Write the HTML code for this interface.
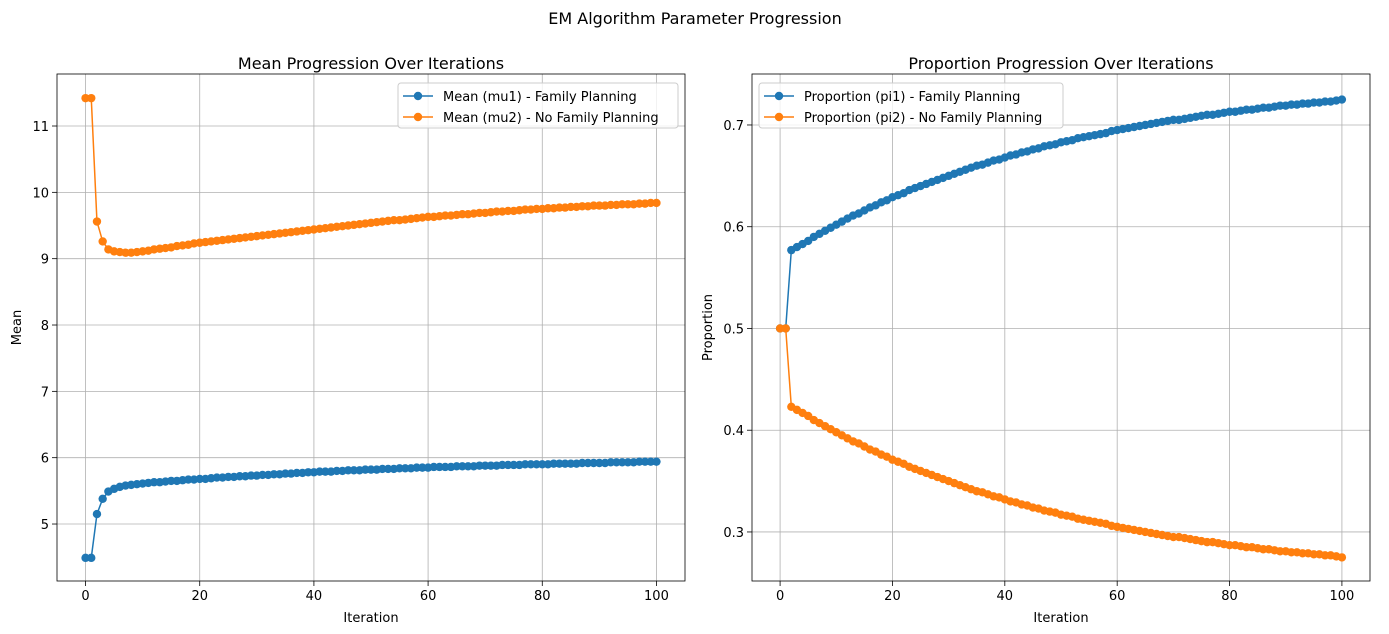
<!DOCTYPE html>
<html><head><meta charset="utf-8"><style>
body{margin:0;background:#fff;}
svg{display:block;font-family:"DejaVu Sans","Liberation Sans",sans-serif;}
</style></head><body>
<svg id="fig" width="1389" height="634">
<text x="695" y="24" text-anchor="middle" font-size="16" fill="#000">EM Algorithm Parameter Progression</text>
</svg>
<script>
const iterations = Array.from({length:101},(_,i)=>i);
const mu1 = [4.49,4.49,5.15,5.38,5.49,5.53,5.56,5.58,5.59,5.60,
5.61,5.62,5.63,5.63,5.64,5.65,5.65,5.66,5.67,5.67,
5.68,5.68,5.69,5.70,5.70,5.71,5.71,5.72,5.72,5.73,
5.73,5.74,5.74,5.75,5.75,5.76,5.76,5.77,5.77,5.78,
5.78,5.79,5.79,5.79,5.80,5.80,5.81,5.81,5.81,5.82,
5.82,5.82,5.83,5.83,5.83,5.84,5.84,5.84,5.85,5.85,
5.85,5.86,5.86,5.86,5.86,5.87,5.87,5.87,5.87,5.88,
5.88,5.88,5.88,5.89,5.89,5.89,5.89,5.90,5.90,5.90,
5.90,5.90,5.91,5.91,5.91,5.91,5.91,5.92,5.92,5.92,
5.92,5.92,5.93,5.93,5.93,5.93,5.93,5.94,5.94,5.94,5.94];
const mu2 = [11.42,11.42,9.56,9.26,9.14,9.11,9.10,9.09,9.09,9.10,
9.11,9.12,9.14,9.15,9.16,9.17,9.19,9.20,9.21,9.23,
9.24,9.25,9.26,9.27,9.28,9.29,9.30,9.31,9.32,9.33,
9.34,9.35,9.36,9.37,9.38,9.39,9.40,9.41,9.42,9.43,
9.44,9.45,9.46,9.47,9.48,9.49,9.50,9.51,9.52,9.53,
9.54,9.55,9.56,9.57,9.58,9.58,9.59,9.60,9.61,9.62,
9.63,9.63,9.64,9.65,9.65,9.66,9.67,9.67,9.68,9.69,
9.69,9.70,9.71,9.71,9.72,9.72,9.73,9.74,9.74,9.75,
9.75,9.76,9.76,9.77,9.77,9.78,9.78,9.79,9.79,9.80,
9.80,9.80,9.81,9.81,9.82,9.82,9.82,9.83,9.83,9.84,9.84];
const pi1 = [.500,.500,.577,.580,.583,.586,.590,.593,.596,.599,
.602,.605,.608,.611,.613,.616,.619,.621,.624,.626,
.629,.631,.633,.636,.638,.640,.642,.644,.646,.648,
.650,.652,.654,.656,.658,.660,.661,.663,.665,.666,
.668,.670,.671,.673,.674,.676,.677,.679,.680,.681,
.683,.684,.685,.687,.688,.689,.690,.691,.692,.694,
.695,.696,.697,.698,.699,.700,.701,.702,.703,.704,
.705,.705,.706,.707,.708,.709,.710,.710,.711,.712,
.713,.713,.714,.715,.715,.716,.717,.717,.718,.719,
.719,.720,.720,.721,.721,.722,.722,.723,.723,.724,.725];
const pi2 = [.500,.500,.423,.420,.417,.414,.410,.407,.404,.401,
.398,.395,.392,.389,.387,.384,.381,.379,.376,.374,
.371,.369,.367,.364,.362,.360,.358,.356,.354,.352,
.350,.348,.346,.344,.342,.340,.339,.337,.335,.334,
.332,.330,.329,.327,.326,.324,.323,.321,.320,.319,
.317,.316,.315,.313,.312,.311,.310,.309,.308,.306,
.305,.304,.303,.302,.301,.300,.299,.298,.297,.296,
.295,.295,.294,.293,.292,.291,.290,.290,.289,.288,
.287,.287,.286,.285,.285,.284,.283,.283,.282,.281,
.281,.280,.280,.279,.279,.278,.278,.277,.277,.276,.275];
const xTicks = [0,20,40,60,80,100];
const leftYTicks = [5,6,7,8,9,10,11];
const rightYTicks = [0.3,0.4,0.5,0.6,0.7];
const leftLabels = ["Mean (mu1) - Family Planning","Mean (mu2) - No Family Planning"];
const rightLabels = ["Proportion (pi1) - Family Planning","Proportion (pi2) - No Family Planning"];

const NS="http://www.w3.org/2000/svg";
const svg=document.getElementById('fig');
function mk(tag,attrs,parent){const e=document.createElementNS(NS,tag);for(const k in attrs)e.setAttribute(k,attrs[k]);(parent||svg).appendChild(e);return e;}

function panel(o){
  const g=mk('g',{});
  
  
  const sx=v=>o.x0+(v-o.xmin)/(o.xmax-o.xmin)*(o.x1-o.x0);
  const sy=v=>o.y1-(v-o.ymin)/(o.ymax-o.ymin)*(o.y1-o.y0);
  xTicks.forEach(t=>{
    const X=sx(t);
    const gl=mk('line',{x1:X,x2:X,y1:o.y0,y2:o.y1,stroke:'#b0b0b0','stroke-width':0.8},g);
    
    
    mk('line',{x1:X,x2:X,y1:o.y1,y2:o.y1+5,stroke:'#000','stroke-width':0.8},g);
    const tx=mk('text',{x:X,y:o.y1+19,'text-anchor':'middle','font-size':13},g);
    tx.textContent=t;
    
    
  });
  o.yticks.forEach(t=>{
    const Y=sy(t);
    const gl=mk('line',{x1:o.x0,x2:o.x1,y1:Y,y2:Y,stroke:'#b0b0b0','stroke-width':0.8},g);
    
    
    mk('line',{x1:o.x0-5,x2:o.x0,y1:Y,y2:Y,stroke:'#000','stroke-width':0.8},g);
    const tx=mk('text',{x:o.x0-8,y:Y+5,'text-anchor':'end','font-size':13},g);
    tx.textContent=o.fmt(t);
    
    
  });
  o.series.forEach((s,si)=>{
    const sg=mk('g',{},g);
    
    
    mk('polyline',{points:s.data.map((v,i)=>sx(iterations[i])+','+sy(v)).join(' '),fill:'none',stroke:s.color,'stroke-width':1.5},sg);
    s.data.forEach((v,i)=>{
      const c=mk('circle',{cx:sx(iterations[i]),cy:sy(v),r:4.2,fill:s.color},sg);
      
      
    });
  });
  mk('rect',{x:o.x0,y:o.y0,width:o.x1-o.x0,height:o.y1-o.y0,fill:'none',stroke:'#000','stroke-width':0.8},g);
  const ti=mk('text',{x:(o.x0+o.x1)/2,y:o.y0-5,'text-anchor':'middle','font-size':16},g);
  ti.textContent=o.title;
  
  
  const xl=mk('text',{x:(o.x0+o.x1)/2,y:o.y1+41,'text-anchor':'middle','font-size':13},g);
  xl.textContent='Iteration';
  
  
  const yx=o.ylabx, yy=(o.y0+o.y1)/2;
  const yl=mk('text',{x:yx,y:yy,'text-anchor':'middle','font-size':13,transform:`rotate(-90 ${yx} ${yy})`},g);
  yl.textContent=o.ylabel;
  
  
  const lg=mk('g',{},g);
  
  
  mk('rect',{x:o.lx,y:83,width:o.lw,height:45,rx:3,fill:'#fff','fill-opacity':0.8,stroke:'#ccc','stroke-width':1},lg);
  o.series.forEach((s,si)=>{
    const Y=96+si*21;
    const e=mk('g',{},lg);
    
    
    mk('line',{x1:o.lx+5,x2:o.lx+35,y1:Y,y2:Y,stroke:s.color,'stroke-width':1.5},e);
    mk('circle',{cx:o.lx+20,cy:Y,r:4.2,fill:s.color},e);
    const t=mk('text',{x:o.lx+45,y:Y+5,'font-size':13},e);
    t.textContent=s.label;
  });
}
panel({name:'mean-chart',x0:57,x1:685,y0:74,y1:581,xmin:-5,xmax:105,ymin:4.141,ymax:11.784,
  yticks:leftYTicks,fmt:t=>String(t),title:'Mean Progression Over Iterations',ylabel:'Mean',ylabx:21,lx:398,lw:280,
  series:[{id:'mu1',data:mu1,color:'#1f77b4',label:leftLabels[0]},{id:'mu2',data:mu2,color:'#ff7f0e',label:leftLabels[1]}]});
panel({name:'proportion-chart',x0:752,x1:1370,y0:74,y1:581,xmin:-5,xmax:105,ymin:0.2518,ymax:0.7501,
  yticks:rightYTicks,fmt:t=>t.toFixed(1),title:'Proportion Progression Over Iterations',ylabel:'Proportion',ylabx:712,lx:759,lw:304,
  series:[{id:'pi1',data:pi1,color:'#1f77b4',label:rightLabels[0]},{id:'pi2',data:pi2,color:'#ff7f0e',label:rightLabels[1]}]});
</script>
</body></html>
